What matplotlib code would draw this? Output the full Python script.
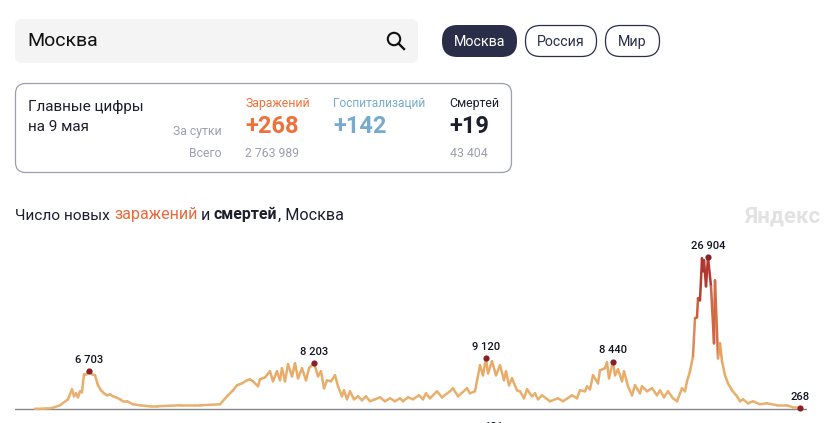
import numpy as np
import matplotlib
matplotlib.use('Agg')
import matplotlib.pyplot as plt
from matplotlib.collections import LineCollection
from matplotlib.colors import LinearSegmentedColormap, Normalize
from matplotlib.patches import FancyBboxPatch, Circle
from matplotlib.lines import Line2D

plt.rcParams['font.family'] = ['Roboto', 'DejaVu Sans']

#------------- Data --------------------------------------#
days_1 = [1, 11, 18, 26, 34, 38, 40, 42, 44, 46, 48, 50, 52, 55, 58, 61, 64, 67, 70, 73, 76, 79, 82, 86, 89, 93, 99,
          106, 116, 123, 146, 166, 186]
cases_1 = [90, 120, 230, 710, 1770, 3540, 2300, 2830, 2120, 3190, 3010, 6200, 6200, 6703, 6200, 6020, 4250, 3360,
           2830, 2480, 2660, 2300, 2120, 1770, 1420, 1420, 890, 710, 530, 530, 710, 710, 890]
days_2 = [193, 199, 203, 208, 213, 216, 219, 224, 226, 231, 236, 239, 243, 246, 248, 251, 254, 258, 261, 264, 268,
          272, 275, 280, 284, 287, 290, 293, 297, 301, 304, 308, 310, 313, 316, 320, 324, 328, 332, 336, 341, 346,
          351, 356, 361, 366, 369, 374, 379, 385, 389, 392, 396, 403, 408, 416, 419, 424, 433, 436, 441]
cases_2 = [2300, 3360, 4250, 4600, 5130, 5310, 4960, 4070, 5310, 5660, 6730, 4960, 6730, 5130, 7260, 4960, 7970,
           5840, 8140, 5490, 7260, 5130, 7260, 8203, 5840, 6730, 3720, 5130, 4960, 6020, 4070, 2300, 3360, 1770,
           3190, 1770, 2300, 1590, 2300, 1420, 1770, 2120, 1420, 1950, 1420, 1950, 1420, 2120, 1770, 2480, 1770,
           2830, 1950, 3190, 2120, 3190, 3720, 2300, 3720, 2830, 3190]
days_3 = [446, 449, 452, 454, 458, 462, 466, 470, 472, 475, 478, 483, 486, 490, 493, 498, 501, 504, 508, 516, 524,
          529, 538, 543, 546, 551, 553, 556, 559, 564, 566, 571, 573, 575, 579, 581, 584, 588, 590, 594, 598, 601,
          606, 608, 613, 618, 623, 626, 630, 634, 639, 643, 648, 651, 653, 656]
cases_3 = [7790, 6020, 9120, 6370, 8500, 6020, 7790, 5130, 6730, 4250, 5490, 3360, 3190, 1950, 3540, 2300, 2830,
           1770, 2480, 1420, 1950, 1420, 2480, 1950, 3360, 3190, 4070, 3540, 6020, 4600, 6900, 7260, 8320, 5490,
           8440, 6020, 7080, 4960, 6730, 4070, 2480, 4250, 2830, 4070, 3190, 3720, 2480, 3360, 2120, 3190, 1950,
           1420, 3720, 3190, 4960, 6730]
days_4 = [659, 661, 663, 664, 666, 668, 669, 670, 672, 674, 677, 680, 681, 684, 686, 688, 691, 694, 698, 703, 706,
          709, 714, 719, 726, 733, 743, 753, 759, 766]
cases_4 = [9380, 16100, 16280, 19650, 19290, 26730, 24430, 26370, 21770, 26904, 21770, 11680, 22830, 9030, 11680,
           8500, 6020, 4600, 3360, 2300, 1420, 1770, 1060, 1420, 890, 1060, 710, 710, 350, 268]
peak_days = [55, 280, 452, 579, 674, 766]
peak_values = [6703, 8203, 9120, 8440, 26904, 268]
peak_labels = ['6 703', '8 203', '9 120', '8 440', '26 904', '268']

pills = ['Москва', 'Россия', 'Мир']
card_heads = ['Заражений', 'Госпитализаций', 'Смертей']

#------------- Page layer in pixels -----------------#
fig = plt.figure(figsize=(8.32, 4.23), dpi=100)
page = fig.add_axes([0, 0, 1, 1])
page.set_xlim(0, 832)
page.set_ylim(423, 0)
page.axis('off')

def box(x, y, w, h, r, fc, ec='none', lw=1.0):
    page.add_patch(FancyBboxPatch((x + r, y + r), w - 2 * r, h - 2 * r, boxstyle=f'round,pad={r},rounding_size={r}',
                                  fc=fc, ec=ec, lw=lw))

def label(x, y, s, size, color, ha='left', weight='normal'):
    page.text(x, y, s, fontsize=size, color=color, ha=ha, va='baseline', fontweight=weight)

# search field
box(15, 19, 403, 44, 7, '#f4f4f4')
label(27, 46, 'Москва', 14, '#111111')
page.add_patch(Circle((394, 39), 6.2, fc='none', ec='#111111', lw=1.5))
page.add_line(Line2D([398.5, 404], [43.5, 49], color='#111111', lw=1.7))

# pills
box(442, 25, 75, 32, 15.5, '#2a2e48')
box(525.5, 25.5, 71, 31, 15, 'white', '#2a2e48', 0.9)
box(605.5, 25.5, 54, 31, 15, 'white', '#2a2e48', 0.9)
label(479.5, 46, pills[0], 10.3, 'white', 'center')
label(561, 46, pills[1], 10.2, '#2a2e48', 'center')
label(632.5, 46, pills[2], 10.3, '#2a2e48', 'center')

# card
box(15.5, 83.5, 496, 89, 10, 'white', '#9a9eae', 0.9)
label(28, 111, 'Главные цифры', 11, '#1c1e2e')
label(28, 131, 'на 9 мая', 11, '#1c1e2e')
label(222, 135, 'За сутки', 8.8, '#9a9eae', 'right')
label(222, 157, 'Всего', 8.8, '#9a9eae', 'right')
label(245, 107, card_heads[0], 8.8, '#f0703a')
label(245, 133, '+268', 17, '#f0703a', weight='bold')
label(245, 157, '2 763 989', 8.8, '#9a9eae')
label(333, 107, card_heads[1], 8.6, '#78aacd')
label(333, 133, '+142', 17, '#78aacd', weight='bold')
label(449.5, 107, card_heads[2], 8.8, '#1c1e2e')
label(449.5, 133, '+19', 17, '#1c1e2e', weight='bold')
label(449.5, 157, '43 404', 8.8, '#9a9eae')

# title, built from coloured runs
label(15, 219.5, 'Число новых', 11.1, '#1c1e2e')
label(114, 219.5, 'заражений', 11.6, '#e8693a')
label(201, 219.5, 'и', 11.6, '#1c1e2e')
label(214, 219.5, 'смертей', 11.4, '#1c1e2e', weight='bold')
label(278, 219.5, ', Москва', 11.6, '#1c1e2e')
label(821, 223, 'Яндекс', 16, '#e2e2e2', 'right', 'bold')

#------------- Chart layer -----------------#
# axes from px 15 to 807, top at px 235, bottom at px 423, baseline at px 409.3
ax = fig.add_axes([15 / 832, 0, 792 / 832, 188 / 423])
ax.set_xlim(-19, 773)
ax.set_ylim(-13.7 * 177, 174.3 * 177)
ax.axis('off')
ax.patch.set_alpha(0)

ax.axhline(0, color='#85878f', lw=1.0, zorder=1)

x = np.array(days_1 + days_2 + days_3 + days_4, dtype=float)
y = np.array(cases_1 + cases_2 + cases_3 + cases_4, dtype=float)
points = np.column_stack([x, y]).reshape(-1, 1, 2)
segments = np.concatenate([points[:-1], points[1:]], axis=1)
cmap = LinearSegmentedColormap.from_list('cases', [(0, '#e9b26e'), (0.35, '#e8a865'), (0.55, '#d9774a'),
                                                   (0.8, '#bd4232'), (1, '#a8302e')])
lc = LineCollection(segments, cmap=cmap, norm=Normalize(0, 26904), lw=1.8, capstyle='round', joinstyle='round', zorder=2)
lc.set_array((y[:-1] + y[1:]) / 2)
ax.add_collection(lc)

ax.scatter(peak_days, peak_values, s=20, color='#8a2028', zorder=3, clip_on=False, linewidths=0)
for d, v, s in zip(peak_days, peak_values, peak_labels):
    ax.annotate(s, (d, v), xytext=(0, 4.5), textcoords='offset points', ha='center', va='bottom',
                fontsize=8, color='#111522', fontweight='medium')

# top of a label that the page cuts off at the bottom edge
label(494, 429.5, '131', 8, '#111522', 'center', 'medium')

plt.savefig('out.png', dpi=100)
